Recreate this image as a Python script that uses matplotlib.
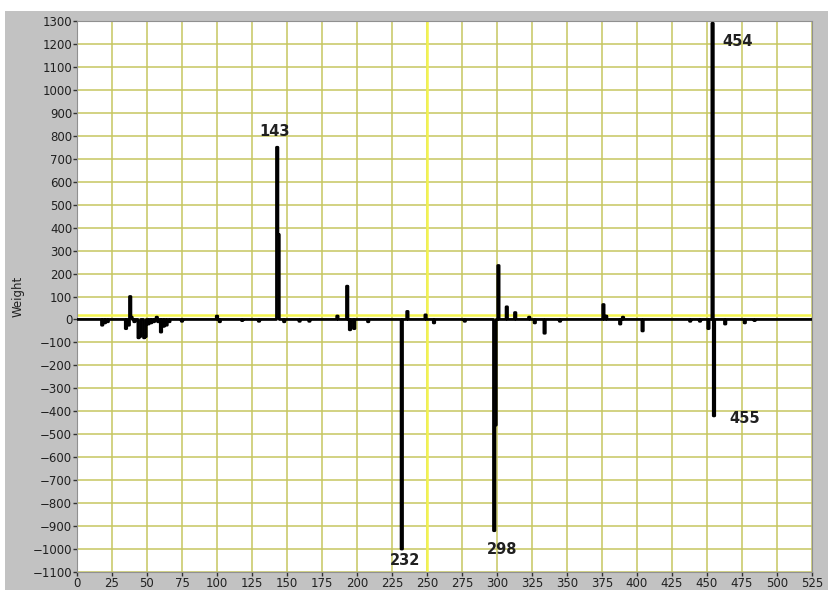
import numpy as np
import matplotlib.pyplot as plt
from matplotlib.patches import Rectangle

# weights (index -> weight), everything else ~0
idx = [18, 20, 22, 35, 37, 38, 39, 41, 44, 45, 48, 49, 51, 53, 55, 57, 58, 60, 62, 64, 66,
       75, 100, 102, 118, 130, 143, 144, 148, 159, 166, 186, 193, 195, 198, 208,
       232, 236, 249, 255, 277, 298, 299, 301, 307, 313, 323, 327, 334, 345, 376, 378,
       388, 390, 404, 438, 445, 451, 454, 455, 463, 477, 484]
weight = [-25, -15, -10, -40, -25, 100, 10, -10, -80, -75, -80, -75, -20, -15, -10, 10, -10, -55, -30, -25, -10,
          -8, 15, -10, -5, -8, 750, 370, -10, -8, -8, 15, 145, -45, -40, -10,
          -1000, 35, 20, -15, -8, -920, -460, 235, 55, 30, 10, -15, -60, -8, 65, 15,
          -20, 10, -50, -8, -8, -40, 1290, -420, -20, -15, -5]

peak_labels = ["143", "454", "232", "298", "455"]
peak_label_x = [141, 472, 234, 304, 477]
peak_label_y = [820, 1210, -1050, -1000, -430]

n = 526
y = np.zeros(n)
y[idx] = weight
x = np.arange(n)

fig = plt.figure(figsize=(8.29, 5.90), dpi=100, facecolor="#c2c2c2")
# white strips at top and left of the grey panel
fig.add_artist(Rectangle((0, (590 - 11) / 590), 1, 11 / 590, transform=fig.transFigure,
                         facecolor="white", edgecolor="none", zorder=-5))
fig.add_artist(Rectangle((0, 0), 5 / 829, 1, transform=fig.transFigure,
                         facecolor="white", edgecolor="none", zorder=-5))

ax = fig.add_axes([77 / 829, 18 / 590, (812 - 77) / 829, (572 - 21) / 590])
ax.set_facecolor("white")
ax.set_xlim(0, 525)
ax.set_ylim(-1100, 1300)
ax.set_xticks(np.arange(0, 526, 25))
ax.set_yticks(np.arange(-1100, 1301, 100))
ax.grid(True, color="#c6c660", linewidth=1.1)
ax.set_axisbelow(True)

# cursor lines
ax.axvline(250, color="#f4f450", linewidth=1.8, zorder=1.5)
ax.axhline(20, color="#f4f450", linewidth=1.8, zorder=1.5)

ax.plot(x, y, color="black", linewidth=2, drawstyle="steps-mid", zorder=3)

for t, tx, ty in zip(peak_labels, peak_label_x, peak_label_y):
    ax.text(tx, ty, t, ha="center", va="center", fontsize=10.5, fontweight="bold",
            color="#202020", zorder=4)

for s in ax.spines.values():
    s.set_color("#909090")
    s.set_linewidth(0.8)
ax.tick_params(axis="both", direction="out", length=3, width=1, color="#303030",
               labelsize=8.5, labelcolor="#202020", pad=0.5)
ax.set_ylabel("Weight", fontsize=8.5, color="#202020", labelpad=6)

fig.savefig("out.png", dpi=100, facecolor=fig.get_facecolor())
